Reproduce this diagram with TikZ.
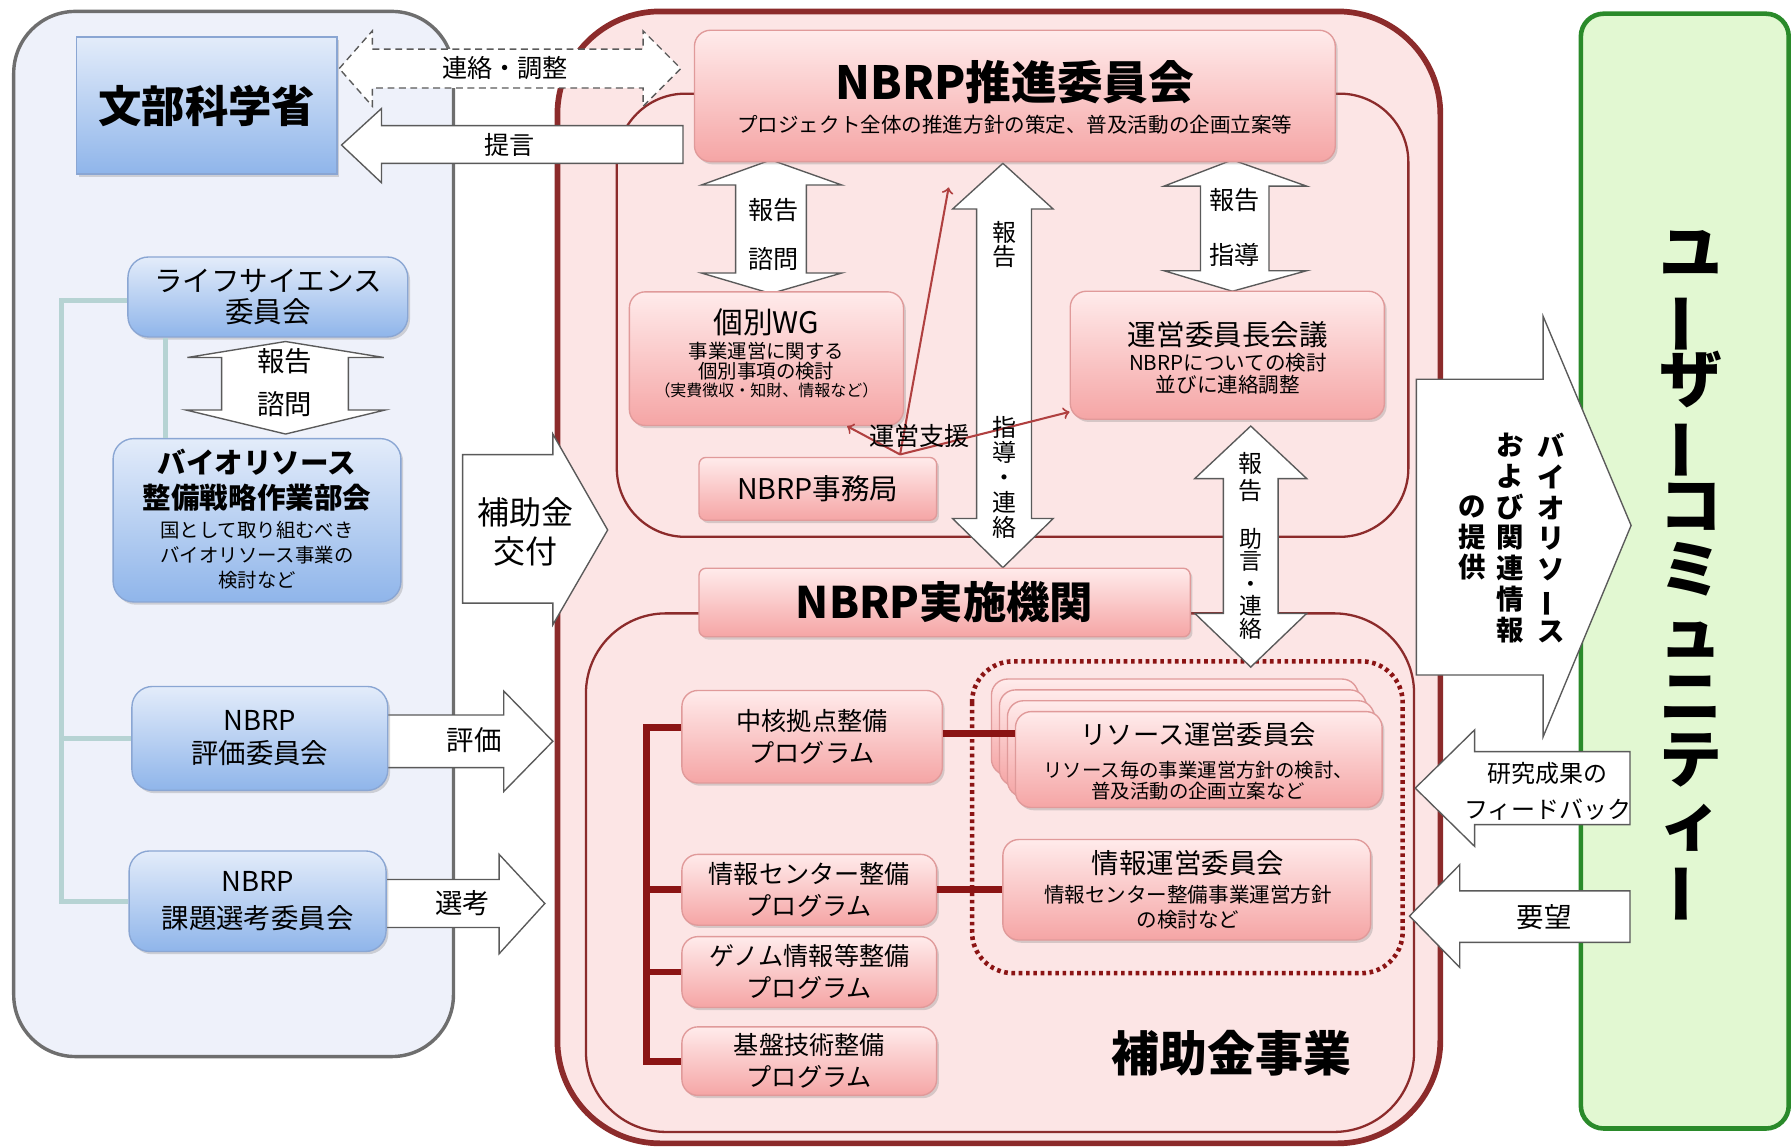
\documentclass[tikz,border=0pt]{standalone}
\usepackage{fontspec}
\setmainfont{Noto Sans CJK JP}
\usetikzlibrary{shadows}
\lineskiplimit=-20pt

\definecolor{panelbg}{HTML}{EEF1FA}
\definecolor{panelline}{HTML}{6E6E6E}
\definecolor{redline}{HTML}{8C2B2B}
\definecolor{redbg}{HTML}{FCE5E5}
\definecolor{pinktop}{HTML}{FFEBEB}
\definecolor{pinkbot}{HTML}{F5A5A5}
\definecolor{pinkline}{HTML}{E09A9A}
\definecolor{bluetop}{HTML}{E3ECFA}
\definecolor{bluebot}{HTML}{8FB5EA}
\definecolor{blueline}{HTML}{8AA6D3}
\definecolor{greenbg}{HTML}{E2F8D2}
\definecolor{greenline}{HTML}{2A8A2A}
\definecolor{treeteal}{HTML}{B6D3D3}
\definecolor{treered}{HTML}{8B1414}
\definecolor{supportred}{HTML}{B04040}
\definecolor{arrowline}{HTML}{5A5A5A}

\newcommand{\tatebo}{\rotatebox[origin=c]{90}{ー}}

\tikzset{
  panel/.style={draw=panelline, line width=1.5pt, fill=panelbg, rounded corners=27pt},
  outerbox/.style={draw=redline, line width=2.5pt, fill=redbg, rounded corners=45pt},
  groupbox/.style={draw=redline, line width=1pt, fill=redbg},
  userbox/.style={draw=greenline, line width=2pt, fill=greenbg, rounded corners=10pt},
  dotframe/.style={draw=treered, line width=2pt, dash pattern=on 1.6pt off 1.6pt, rounded corners=18pt},
  softshadow/.style={drop shadow={opacity=0.3, shadow xshift=1pt, shadow yshift=-1.2pt}},
  bluebox/.style={draw=blueline, line width=0.6pt, top color=bluetop, bottom color=bluebot,
    rounded corners=9pt, align=center, inner sep=0pt, softshadow},
  pinkbox/.style={draw=pinkline, line width=0.6pt, top color=pinktop, bottom color=pinkbot,
    rounded corners=7pt, align=center, inner sep=0pt, softshadow},
  blockarrow/.style={draw=arrowline, line width=0.6pt, fill=white},
  dashedarrow/.style={blockarrow, dash pattern=on 3pt off 2pt},
  lbl/.style={inner sep=0pt, align=center},
  progtree/.style={draw=treered, line width=3pt},
  lefttree/.style={draw=treeteal, line width=2.2pt},
  support/.style={draw=supportred, line width=0.9pt, ->},
}

\begin{document}
\begin{tikzpicture}[x=0.5pt, y=-0.5pt]
\useasboundingbox (0,0) rectangle (1568,1004);

% frames
\draw[outerbox] (488,10) rectangle (1261,1001);
\draw[panel] (12,10) rectangle (397,925);
\draw[userbox] (1384,12) rectangle (1566,988);
\draw[groupbox, rounded corners=30pt] (540,82) rectangle (1233,470);
\draw[groupbox, rounded corners=35pt] (513,537) rectangle (1238,991);
\draw[dotframe] (851,579) rectangle (1228,852);

% block arrows, left side
\draw[dashedarrow] (297,60) -- (326,27) -- (326,43) -- (563,43) -- (563,27) -- (596,60) -- (563,93) -- (563,77) -- (326,77) -- (326,93) -- cycle;
\draw[blockarrow] (299,127) -- (334,95) -- (334,110) -- (598,110) -- (598,143) -- (334,143) -- (334,160) -- cycle;
\draw[blockarrow] (250,299) -- (336,313) -- (305,313) -- (305,359) -- (337,359) -- (250,380) -- (163,359) -- (194,359) -- (194,313) -- (164,313) -- cycle;
\draw[blockarrow] (405,398) -- (484,398) -- (484,380) -- (532,464) -- (484,547) -- (484,528) -- (405,528) -- cycle;
\draw[blockarrow] (339,626) -- (441,626) -- (441,605) -- (484,649) -- (441,693) -- (441,672) -- (339,672) -- cycle;
\draw[blockarrow] (338,770) -- (437,770) -- (437,748) -- (477,791) -- (437,835) -- (437,812) -- (338,812) -- cycle;

% block arrows, centre
\draw[blockarrow] (675,140) -- (737,162) -- (706,162) -- (706,239) -- (737,239) -- (675,257) -- (614,239) -- (644,239) -- (644,162) -- (614,162) -- cycle;
\draw[blockarrow] (1079,140) -- (1144,163) -- (1111,163) -- (1111,237) -- (1144,237) -- (1079,255) -- (1019,237) -- (1051,237) -- (1051,163) -- (1019,163) -- cycle;
\draw[blockarrow] (878,143) -- (922,183) -- (903,183) -- (903,454) -- (922,454) -- (878,497) -- (834,454) -- (855,454) -- (855,183) -- (834,183) -- cycle;
\draw[blockarrow] (1095,373) -- (1144,419) -- (1119,419) -- (1119,537) -- (1144,537) -- (1095,584) -- (1046,537) -- (1071,537) -- (1071,419) -- (1046,419) -- cycle;

% block arrows, right side
\draw[blockarrow] (1240,332) -- (1351,332) -- (1351,277) -- (1428,460) -- (1351,645) -- (1351,591) -- (1240,591) -- cycle;
\draw[blockarrow] (1239,690) -- (1291,639) -- (1291,658) -- (1427,658) -- (1427,722) -- (1291,722) -- (1291,741) -- cycle;
\draw[blockarrow] (1234,802) -- (1278,757) -- (1278,780) -- (1427,780) -- (1427,825) -- (1278,825) -- (1278,847) -- cycle;

% ministry side
\node[bluebox, sharp corners, minimum width=114pt, minimum height=60pt, font=\bfseries\fontsize{19}{19}\selectfont] (monka) at (181,92.5) {文部科学省};
\node[bluebox, minimum width=122.5pt, minimum height=35pt, font=\fontsize{12.5}{13.5}\selectfont] (life) at (234.5,260) {ライフサイエンス\\委員会};
\node[bluebox, minimum width=126pt, minimum height=71.5pt] (bio) at (225,455.5) {};
\node[lbl, font=\bfseries\fontsize{12.5}{15.5}\selectfont] (bioT1) at (225,420.5) {バイオリソース\\整備戦略作業部会};
\node[lbl, font=\fontsize{8.5}{11}\selectfont] (bioT2) at (225,486) {国として取り組むべき\\バイオリソース事業の\\検討など};
\node[bluebox, minimum width=112pt, minimum height=45.5pt, font=\fontsize{12}{14.5}\selectfont] (hyouka) at (227.5,646.5) {NBRP\\評価委員会};
\node[bluebox, minimum width=112.5pt, minimum height=44pt, font=\fontsize{12}{16}\selectfont] (kadai) at (225.5,789) {NBRP\\課題選考委員会};

\coordinate (lt) at (54,263);
\draw[lefttree] (life.west |- lt) -- (lt) |- (kadai.west);
\draw[lefttree] (lt |- hyouka.west) -- (hyouka.west);
\draw[lefttree] ([xshift=-44.75pt]life.south) -- ([xshift=-44.75pt]life.south |- bio.north);

% promotion committee and its group
\node[pinkbox, minimum width=280.5pt, minimum height=57.5pt] (suishin) at (888.5,84) {};
\node[lbl, font=\bfseries\fontsize{20}{20}\selectfont] (suishinT1) at (888.5,72) {NBRP推進委員会};
\node[lbl, font=\fontsize{9}{9}\selectfont] (suishinT2) at (888.5,109) {プロジェクト全体の推進方針の策定、普及活動の企画立案等};

\node[pinkbox, minimum width=120pt, minimum height=58.5pt] (kobetsu) at (671,314) {};
\node[lbl, font=\fontsize{13}{13}\selectfont] (kobetsuT1) at (671,282) {個別WG};
\node[lbl, font=\fontsize{8.5}{9}\selectfont] (kobetsuT2) at (671,316) {事業運営に関する\\個別事項の検討};
\node[lbl, font=\fontsize{7}{7}\selectfont] (kobetsuT3) at (671,342) {（実費徴収・知財、情報など）};

\node[pinkbox, minimum width=137.5pt, minimum height=56pt] (unei) at (1074.5,311) {};
\node[lbl, font=\fontsize{12.5}{12.5}\selectfont] (ueniT1) at (1075,293) {運営委員長会議};
\node[lbl, font=\fontsize{9}{9.5}\selectfont] (ueniT2) at (1075,327.5) {NBRPについての検討\\並びに連絡調整};

\node[pinkbox, rounded corners=3pt, minimum width=104pt, minimum height=27.5pt, font=\fontsize{12.5}{12.5}\selectfont] (jimu) at (716,428) {NBRP事務局};
\node[pinkbox, rounded corners=3pt, minimum width=215pt, minimum height=30pt, font=\bfseries\fontsize{19}{19}\selectfont] (jisshi) at (827,527.5) {NBRP実施機関};

\coordinate (shien) at ([xshift=36pt,yshift=1pt]jimu.north);
\draw[support] (shien) -- ([xshift=-29pt,yshift=-11pt]suishin.south);
\draw[support] (shien) -- ([xshift=-25pt]kobetsu.south east);
\draw[support] (shien) -- ([yshift=3.5pt]unei.south west);
\node[lbl, font=\fontsize{11}{11}\selectfont] (shienT) at (805,382) {運営支援};

% programmes
\node[pinkbox, minimum width=114pt, minimum height=40.5pt, font=\fontsize{11}{14}\selectfont] (chukaku) at (711,645) {中核拠点整備\\プログラム};
\node[pinkbox, minimum width=111.5pt, minimum height=31pt, font=\fontsize{11}{14}\selectfont] (jcenter) at (708.5,779) {情報センター整備\\プログラム};
\node[pinkbox, minimum width=111.5pt, minimum height=31pt, font=\fontsize{11}{14}\selectfont] (genome) at (708.5,851) {ゲノム情報等整備\\プログラム};
\node[pinkbox, minimum width=111.5pt, minimum height=30pt, font=\fontsize{11}{14}\selectfont] (kiban) at (708.5,929) {基盤技術整備\\プログラム};

\foreach \k in {3,2,1} {
  \node[pinkbox, minimum width=160.5pt, minimum height=42pt] (res\k) at ({1049.5-7*\k},{665-9.5*\k}) {};
}
\node[pinkbox, minimum width=160.5pt, minimum height=42pt] (res0) at (1049.5,665) {};
\node[lbl, font=\fontsize{11.5}{11.5}\selectfont] (resT1) at (1049,643) {リソース運営委員会};
\node[lbl, font=\fontsize{8.5}{9.5}\selectfont] (resT2) at (1049,683.5) {リソース毎の事業運営方針の検討、\\普及活動の企画立案など};

\node[pinkbox, minimum width=161pt, minimum height=44pt] (jinfo) at (1039,779) {};
\node[lbl, font=\fontsize{12}{12}\selectfont] (jinfoT1) at (1040,756) {情報運営委員会};
\node[lbl, font=\fontsize{9}{11}\selectfont] (jinfoT2) at (1040,794) {情報センター整備事業運営方針\\の検討など};

\coordinate (pt) at (566,637);
\draw[progtree] (pt -| chukaku.west) -- (pt) |- (kiban.west);
\draw[progtree] (pt |- jcenter.west) -- (jcenter.west);
\draw[progtree] (pt |- genome.west) -- (genome.west);
\draw[progtree] ([yshift=1.5pt]chukaku.east) -- ([yshift=1.5pt]chukaku.east -| res0.west);
\draw[progtree] (jcenter.east) -- (jcenter.east -| jinfo.west);

\node[lbl, font=\bfseries\fontsize{21}{21}\selectfont] (jigyouT) at (1078,922) {補助金事業};

% arrow labels
\node[lbl, font=\fontsize{11}{11}\selectfont] (renrakuT) at (442,60) {連絡・調整};
\node[lbl, font=\fontsize{11}{11}\selectfont] (teigenT) at (446,127) {提言};
\node[lbl, font=\fontsize{12}{19}\selectfont] (lifeArrowT) at (249,335) {報告\\諮問};
\node[lbl, font=\fontsize{14}{17}\selectfont] (hojokinT) at (460,466) {補助金\\交付};
\node[lbl, font=\fontsize{12}{12}\selectfont] (hyoukaT) at (415,648) {評価};
\node[lbl, font=\fontsize{12}{12}\selectfont] (senkouT) at (405,791) {選考};
\node[lbl, font=\fontsize{11}{21.5}\selectfont] (wgArrowT) at (677,205.5) {報告\\諮問};
\node[lbl, font=\fontsize{11}{24}\selectfont] (ueniArrowT) at (1081,199) {報告\\指導};
\node[lbl, font=\fontsize{10.5}{10.5}\selectfont] (midArrowT1) at (879,214.5) {報\\告};
\node[lbl, font=\fontsize{10.5}{11}\selectfont] (midArrowT2) at (879,418) {指\\導\\・\\連\\絡};
\node[lbl, font=\fontsize{10.5}{11.5}\selectfont] (jisshiArrowT1) at (1095,417.5) {報\\告};
\node[lbl, font=\fontsize{10}{9.8}\selectfont] (jisshiArrowT2) at (1095,511) {助\\言\\・\\連\\絡};

% user side
\node[lbl, font=\bfseries\fontsize{12}{13.5}\selectfont] (teikyouT1) at (1358,471) {バ\\イ\\オ\\リ\\ソ\\\tatebo\\ス};
\node[lbl, font=\bfseries\fontsize{12}{13.5}\selectfont] (teikyouT2) at (1322,471) {お\\よ\\び\\関\\連\\情\\報};
\node[lbl, font=\bfseries\fontsize{12}{13.5}\selectfont] (teikyouT3) at (1289,471) {の\\提\\供};
\node[lbl, font=\fontsize{10.5}{16}\selectfont] (feedbackT) at (1355,693) {研究成果の\\フィードバック};
\node[lbl, font=\fontsize{12}{12}\selectfont] (youbouT) at (1352,803) {要望};
\node[lbl, font=\bfseries\fontsize{27.5}{27.75}\selectfont] (userT) at (1480,506) {ユ\\\tatebo\\ザ\\\tatebo\\コ\\ミ\\ュ\\ニ\\テ\\ィ\\\tatebo};
\end{tikzpicture}
\end{document}
